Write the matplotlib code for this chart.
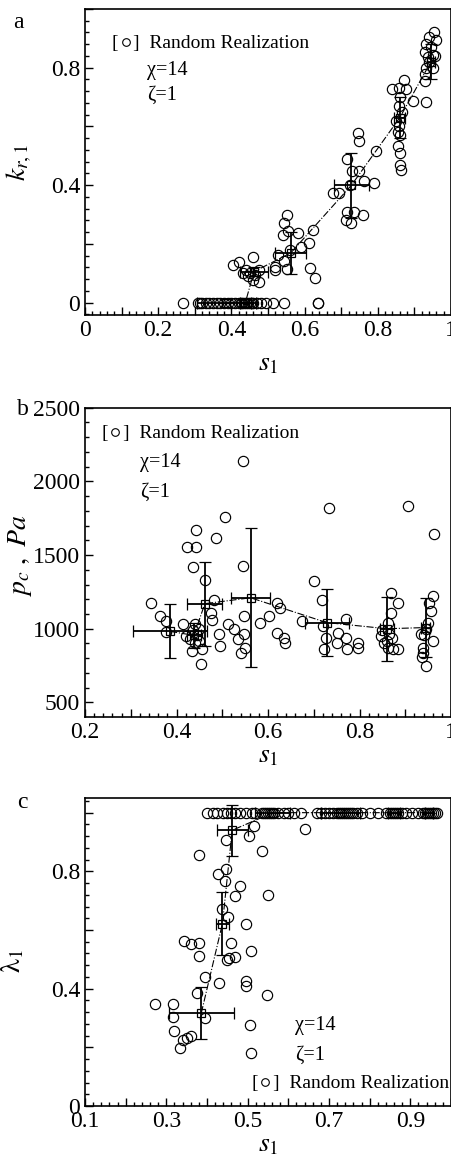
import numpy as np
import matplotlib.pyplot as plt
from matplotlib.ticker import MultipleLocator, FuncFormatter

plt.rcParams['font.family'] = ['Liberation Serif', 'DejaVu Sans']
plt.rcParams['mathtext.fontset'] = 'stix'

# ---- realization means (shared groups) ----
s_mean = [0.386, 0.438, 0.462, 0.562, 0.728, 0.860, 0.945]
s_err = [0.080, 0.015, 0.038, 0.043, 0.048, 0.015, 0.010]

kr_mean = [0.0, 0.0, 0.106, 0.169, 0.40, 0.63, 0.82]
kr_err = [0.0, 0.0, 0.015, 0.07, 0.11, 0.07, 0.06]

pc_mean = [982, 955, 1170, 1210, 1042, 1000, 1008]
pc_err = [183, 85, 285, 472, 225, 217, 200]

lam_mean = [0.317, 0.622, 0.94, 1.0, 1.0, 1.0, 1.0]
lam_err = [0.09, 0.108, 0.087, 0.0, 0.0, 0.0, 0.0]

# ---- panel a: random realizations ----
a_s = [0.268, 0.31, 0.315, 0.32, 0.33, 0.34, 0.35, 0.36, 0.37, 0.38, 0.39, 0.40,
       0.41, 0.42, 0.425, 0.43, 0.435, 0.44, 0.445, 0.45, 0.455, 0.46, 0.47, 0.48,
       0.494, 0.513, 0.545, 0.636, 0.637,
       0.404, 0.42, 0.459, 0.44, 0.431, 0.476, 0.476, 0.459, 0.45, 0.465, 0.445,
       0.551, 0.545, 0.54, 0.581, 0.622, 0.613, 0.59, 0.527, 0.545, 0.52, 0.551,
       0.616, 0.629, 0.518, 0.56, 0.555,
       0.677, 0.695, 0.763, 0.79, 0.717, 0.735, 0.76, 0.713, 0.727, 0.749, 0.745,
       0.749, 0.717, 0.73, 0.725, 0.795,
       0.84, 0.858, 0.877, 0.872, 0.858, 0.85, 0.858, 0.855, 0.86, 0.855, 0.86,
       0.862, 0.865, 0.86, 0.863,
       0.954, 0.94, 0.958, 0.932, 0.945, 0.928, 0.95, 0.937, 0.955, 0.94, 0.932,
       0.95, 0.928, 0.895, 0.931, 0.928]
a_kr = [0.0] * 29 + \
       [0.129, 0.14, 0.155, 0.112, 0.10, 0.112, 0.072, 0.076, 0.10, 0.095, 0.09,
        0.30, 0.271, 0.231, 0.236, 0.249, 0.203, 0.19, 0.163, 0.143, 0.123, 0.114,
        0.117, 0.083, 0.11, 0.18, 0.245,
        0.374, 0.372, 0.414, 0.406, 0.308, 0.31, 0.30, 0.28, 0.27, 0.45, 0.579,
        0.55, 0.49, 0.45, 0.40, 0.516,
        0.727, 0.73, 0.727, 0.757, 0.67, 0.62, 0.60, 0.58, 0.57, 0.535, 0.51,
        0.47, 0.65, 0.70, 0.453,
        0.92, 0.905, 0.895, 0.88, 0.87, 0.855, 0.845, 0.835, 0.84, 0.82, 0.80,
        0.80, 0.78, 0.687, 0.682, 0.756]

# ---- panel b ----
b_s = [0.546, 0.734, 0.907, 0.962, 0.507, 0.443, 0.486, 0.423, 0.443, 0.435, 0.546,
       0.463, 0.70,
       0.345, 0.363, 0.378, 0.378, 0.414, 0.481, 0.475, 0.478, 0.441, 0.42, 0.434,
       0.456, 0.454, 0.496, 0.492, 0.513, 0.525, 0.534, 0.547, 0.547, 0.542, 0.55,
       0.582, 0.602, 0.62, 0.627, 0.62, 0.635, 0.638, 0.675, 0.717, 0.72, 0.727,
       0.722, 0.752, 0.77, 0.77, 0.773, 0.796, 0.796, 0.75,
       0.869, 0.884, 0.869, 0.862, 0.847, 0.854, 0.862, 0.873, 0.884, 0.85, 0.865,
       0.86, 0.87,
       0.96, 0.952, 0.956, 0.96, 0.935, 0.938, 0.938, 0.936, 0.946, 0.95, 0.945, 0.94,
       0.43, 0.44, 0.45, 0.445, 0.435, 0.45]
b_pc = [2139, 1818, 1833, 1644, 1761, 1671, 1619, 1558, 1555, 1419, 1428, 1330, 1322,
        1176, 1085, 1051, 977, 1029, 1193, 1108, 1056, 1029, 950, 849,
        860, 763, 883, 961, 1029, 995, 932, 962, 1085, 838, 872,
        1040, 1085, 1176, 1142, 973, 939, 905, 1051, 1193, 1018, 939,
        860, 973, 1063, 939, 860, 905, 872, 905,
        1243, 1176, 1108, 1040, 950, 905, 872, 860, 860, 990, 961,
        920, 940,
        1220, 1176, 1119, 916, 961, 872, 838, 810, 747, 1040, 1000, 960,
        930, 900, 920, 960, 990, 1000]

# ---- panel c ----
c_s = [0.40, 0.415, 0.425, 0.44, 0.45, 0.46, 0.47, 0.48, 0.495, 0.51, 0.517,
       0.535, 0.54, 0.545, 0.55, 0.555, 0.56, 0.565, 0.575, 0.59, 0.60, 0.615, 0.63,
       0.67, 0.68, 0.69, 0.70, 0.71, 0.72, 0.725, 0.73, 0.735, 0.74, 0.745, 0.75,
       0.755, 0.76, 0.77, 0.78, 0.80, 0.82,
       0.84, 0.85, 0.855, 0.86, 0.865, 0.87, 0.88, 0.89, 0.905, 0.92,
       0.93, 0.935, 0.94, 0.945, 0.95, 0.955, 0.96, 0.965,
       0.641, 0.516, 0.503, 0.447, 0.381, 0.536, 0.447, 0.426, 0.445, 0.48, 0.469,
       0.55, 0.436, 0.452, 0.497, 0.344, 0.36, 0.38, 0.458, 0.38, 0.454, 0.47, 0.507,
       0.448, 0.395, 0.43, 0.495, 0.495, 0.375, 0.548, 0.273, 0.317, 0.317, 0.395,
       0.505, 0.318, 0.34, 0.35, 0.36, 0.333, 0.507]
c_lam = [1.0] * 59 + \
        [0.945, 0.954, 0.92, 0.908, 0.857, 0.868, 0.808, 0.792, 0.766, 0.751, 0.715,
         0.72, 0.67, 0.645, 0.621, 0.561, 0.553, 0.555, 0.555, 0.51, 0.505, 0.509,
         0.528, 0.499, 0.44, 0.421, 0.426, 0.41, 0.385, 0.379, 0.347, 0.347, 0.305,
         0.30, 0.277, 0.254, 0.226, 0.233, 0.24, 0.197, 0.18]

fig = plt.figure(figsize=(4.52, 11.55), dpi=100)
W, H = 452, 1155


def add_ax(top, bottom):
    return fig.add_axes([85 / W, 1 - bottom / H, 366 / W, (bottom - top) / H])


def label_every(step, offset=0.0):
    def fmt(v, pos):
        k = (v - offset) / step
        if abs(k - round(k)) < 1e-6:
            return f'{v + 0.0:g}'
        return ''
    return FuncFormatter(fmt)


def style(ax):
    ax.tick_params(which='both', direction='in', top=False, right=False,
                   labelsize=17, width=1.0)
    ax.tick_params(which='major', length=6)
    ax.tick_params(which='minor', length=3)
    for sp in ax.spines.values():
        sp.set_linewidth(1.2)


def draw(ax, xs, ys, ym, ye):
    ax.plot(xs, ys, 'o', ms=7.4, mfc='none', mec='k', mew=0.85)
    ax.plot(s_mean, ym, '-.', color='k', lw=0.8)
    ax.errorbar(s_mean, ym, xerr=s_err, yerr=ye, fmt='s', ms=5.8, mfc='none',
                mec='k', mew=0.9, ecolor='k', elinewidth=1.3, capsize=4.5,
                capthick=1.3)


def notes(ax, pos):
    (x1, y1), (x2, y2), (x3, y3) = pos
    ax.text(x1, y1, '[   ]  Random Realization', transform=ax.transAxes,
            fontsize=14, va='baseline')
    # small open circle inside the brackets
    ax.plot([x1 + 0.037], [y1 + 0.02], 'o', ms=5.5, mfc='none', mec='k', mew=0.8,
            transform=ax.transAxes, clip_on=False)
    ax.text(x2, y2, 'χ=14', transform=ax.transAxes, fontsize=14.5, va='baseline')
    ax.text(x3, y3, 'ζ=1', transform=ax.transAxes, fontsize=14.5, va='baseline')


# panel a
ax = add_ax(9, 315)
draw(ax, a_s, a_kr, kr_mean, kr_err)
ax.set_xlim(0, 1)
ax.set_ylim(-0.042, 1.0)
ax.xaxis.set_major_locator(MultipleLocator(0.1))
ax.xaxis.set_minor_locator(MultipleLocator(0.02))
ax.xaxis.set_major_formatter(label_every(0.2))
ax.yaxis.set_major_locator(MultipleLocator(0.2))
ax.yaxis.set_minor_locator(MultipleLocator(0.04))
ax.yaxis.set_major_formatter(label_every(0.4))
style(ax)
ax.set_xlabel(r'$s_1$', fontsize=20)
ax.set_ylabel(r'$k_{r,1}$', fontsize=20)
ax.xaxis.set_label_coords(0.5, -0.12)
ax.yaxis.set_label_coords(-0.14, 0.5)
notes(ax, [(0.074, 0.873), (0.169, 0.784), (0.169, 0.703)])

# panel b
ax = add_ax(407.7, 716.7)
draw(ax, b_s, b_pc, pc_mean, pc_err)
ax.set_xlim(0.2, 1)
ax.set_ylim(403, 2500)
ax.xaxis.set_major_locator(MultipleLocator(0.1))
ax.xaxis.set_minor_locator(MultipleLocator(0.02))
ax.xaxis.set_major_formatter(label_every(0.2))
ax.yaxis.set_major_locator(MultipleLocator(500))
ax.yaxis.set_minor_locator(MultipleLocator(100))
style(ax)
ax.set_xlabel(r'$s_1$', fontsize=20)
ax.set_ylabel(r'$p_c\ ,\ Pa$', fontsize=20)
ax.xaxis.set_label_coords(0.5, -0.085)
ax.yaxis.set_label_coords(-0.14, 0.52)
notes(ax, [(0.046, 0.901), (0.15, 0.809), (0.15, 0.712)])

# panel c
ax = add_ax(798, 1106)
draw(ax, c_s, c_lam, lam_mean, lam_err)
ax.set_xlim(0.1, 1.0)
ax.set_ylim(0, 1.05)
ax.xaxis.set_major_locator(MultipleLocator(0.1))
ax.xaxis.set_minor_locator(MultipleLocator(0.02))
ax.xaxis.set_major_formatter(label_every(0.2, 0.1))
ax.yaxis.set_major_locator(MultipleLocator(0.2))
ax.yaxis.set_minor_locator(MultipleLocator(0.04))
ax.yaxis.set_major_formatter(label_every(0.4))
style(ax)
ax.set_xlabel(r'$s_1$', fontsize=20)
ax.set_ylabel(r'$\mathrm{\lambda}_\mathrm{1}$', fontsize=20)
ax.xaxis.set_label_coords(0.5, -0.085)
ax.yaxis.set_label_coords(-0.16, 0.47)
notes(ax, [(0.455, 0.057), (0.574, 0.247), (0.574, 0.149)])

fig.text(0.03, 1 - 28 / H, 'a', fontsize=17, va='baseline')
fig.text(0.037, 1 - 415 / H, 'b', fontsize=17, va='baseline')
fig.text(0.037, 1 - 808 / H, 'c', fontsize=17, va='baseline')

fig.savefig('out.png', dpi=100)
